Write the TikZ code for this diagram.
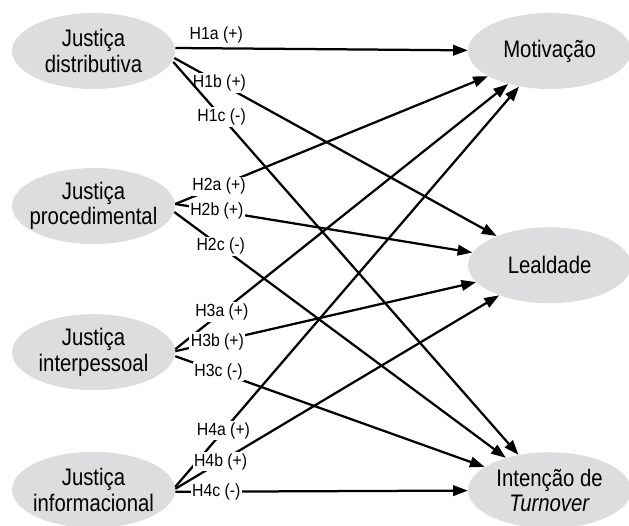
\documentclass[tikz,border=0pt]{standalone}
\usepackage{fontspec}
\setmainfont{Liberation Sans}[FakeStretch=0.85]
\newfontfamily\hypfont{Liberation Sans}[FakeStretch=0.9]
\definecolor{ellgray}{RGB}{220,221,222}
\usetikzlibrary{positioning,calc,arrows.meta,shapes.geometric}

\begin{document}
\begin{tikzpicture}
    [x=0.025cm,y=0.025cm,
      construct/.style={ellipse,fill=ellgray,minimum width=4.075cm,minimum height=1.9cm,
      inner xsep=-5mm,inner ysep=0pt,align=center,font=\fontsize{17}{18}\selectfont},
      hyparrow/.style={-{Triangle[length=10.5pt,width=7.5pt]},line width=1.6pt},
      hyp/.style={fill=white,inner sep=1pt,pos=0.14,font=\hypfont\fontsize{12.5}{13}\selectfont}]

    \useasboundingbox (0,0) rectangle (629,-525);

    \node [construct] (dist) at (93.5,-51) {Justiça\\distributiva};
    \node [construct,below=1.96cm of dist] (proc) {Justiça\\procedimental};
    \node [construct,below=1.74cm of proc] (inter) {Justiça\\interpessoal};
    \node [construct,below=1.525cm of inter] (info) {Justiça\\informacional};

    \node [construct,right=7.31cm of dist] (mot) {Motivação};
    \node [construct,below=3.44cm of mot] (leal) {Lealdade};
    \node [construct,below=3.71cm of leal] (turn) {Intenção de\\\textit{Turnover}};

    \draw [hyparrow] ($(dist.east)+(0,3)$) -- (mot) node [hyp,above,yshift=2pt] {H1a (+)};
    \draw [hyparrow] ($(dist.east)+(-1,-7)$) -- (leal) node [hyp] {H1b (+)};
    \draw [hyparrow] ($(dist.east)+(-2,-11)$) -- (turn) node [hyp] {H1c (-)};

    \draw [hyparrow] ($(proc.east)+(0,2)$) -- (mot) node [hyp] {H2a (+)};
    \draw [hyparrow] ($(proc.east)+(0,2)$) -- (leal) node [hyp] {H2b (+)};
    \draw [hyparrow] ($(proc.east)+(-1,-6)$) -- (turn) node [hyp] {H2c (-)};

    \draw [hyparrow] ($(inter.east)+(0,3)$) -- (mot) node [hyp] {H3a (+)};
    \draw [hyparrow] ($(inter.east)+(0,1)$) -- (leal) node [hyp] {H3b (+)};
    \draw [hyparrow] ($(inter.east)+(0,-4)$) -- (turn) node [hyp] {H3c (-)};

    \draw [hyparrow] ($(info.east)+(0,3)$) -- (mot) node [hyp] {H4a (+)};
    \draw [hyparrow] ($(info.east)+(0,1)$) -- (leal) node [hyp] {H4b (+)};
    \draw [hyparrow] ($(info.east)+(0,-2)$) -- (turn) node [hyp] {H4c (-)};
\end{tikzpicture}
\end{document}
